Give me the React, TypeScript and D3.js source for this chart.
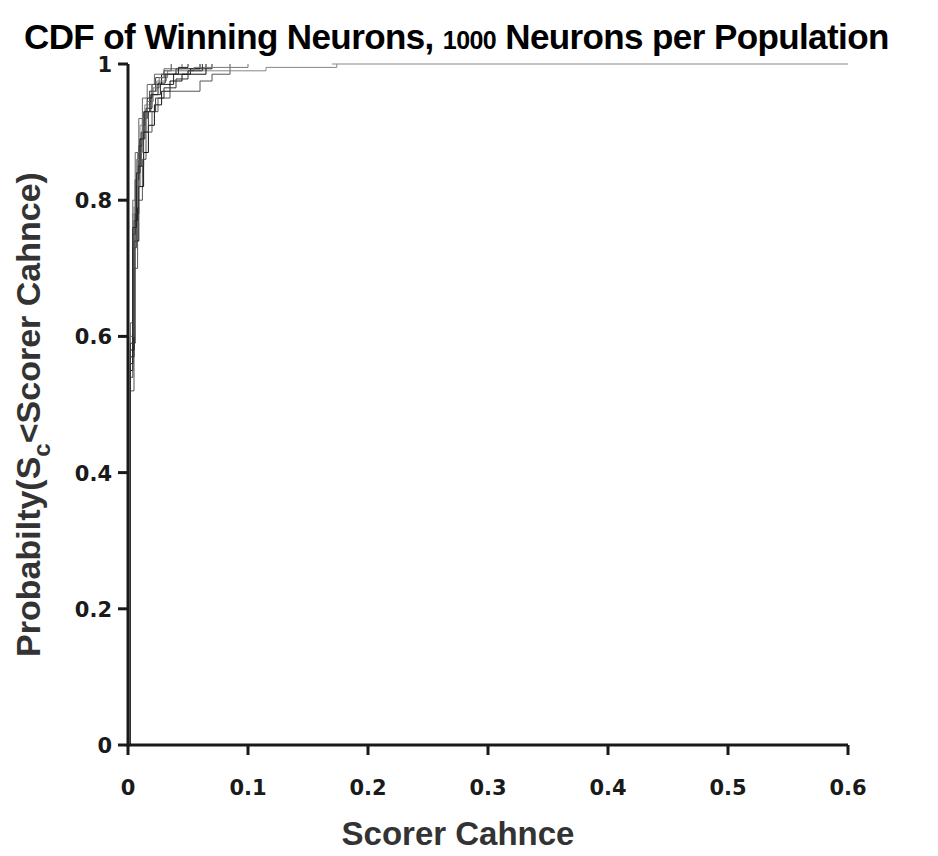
import * as d3 from 'd3'

// ─── Data ─────────────────────────────────────────────────────────────────────
// Each series: empirical CDF step points [scorer chance, probability]

const seriesA: [number, number][] = [[0.002, 0], [0.002, 0.55], [0.004, 0.75], [0.006, 0.83], [0.009, 0.88], [0.012, 0.92], [0.016, 0.95], [0.02, 0.97], [0.028, 0.985], [0.04, 0.993], [0.06, 1]]
const seriesB: [number, number][] = [[0.002, 0], [0.002, 0.52], [0.005, 0.7], [0.008, 0.8], [0.012, 0.86], [0.015, 0.9], [0.02, 0.93], [0.025, 0.95], [0.035, 0.96], [0.06, 0.975], [0.07, 0.985], [0.085, 1]]
const seriesC: [number, number][] = [[0.002, 0], [0.002, 0.6], [0.004, 0.78], [0.007, 0.86], [0.01, 0.91], [0.014, 0.94], [0.018, 0.96], [0.024, 0.975], [0.032, 0.985], [0.05, 0.99], [0.115, 0.995], [0.174, 1]]
const seriesD: [number, number][] = [[0.002, 0], [0.002, 0.57], [0.005, 0.77], [0.008, 0.85], [0.011, 0.9], [0.015, 0.935], [0.02, 0.955], [0.027, 0.97], [0.038, 0.985], [0.052, 0.993], [0.07, 1]]
const seriesE: [number, number][] = [[0.002, 0], [0.002, 0.62], [0.004, 0.8], [0.006, 0.87], [0.009, 0.92], [0.012, 0.95], [0.016, 0.97], [0.022, 0.985], [0.03, 0.993], [0.045, 1]]
const seriesF: [number, number][] = [[0.002, 0], [0.002, 0.58], [0.005, 0.74], [0.009, 0.82], [0.013, 0.87], [0.017, 0.91], [0.022, 0.94], [0.028, 0.96], [0.035, 0.975], [0.045, 0.985], [0.065, 1]]
const seriesG: [number, number][] = [[0.002, 0], [0.002, 0.54], [0.004, 0.73], [0.007, 0.82], [0.01, 0.89], [0.013, 0.93], [0.018, 0.96], [0.023, 0.98], [0.03, 0.99], [0.036, 1]]
const seriesH: [number, number][] = [[0.002, 0], [0.002, 0.6], [0.005, 0.79], [0.008, 0.87], [0.012, 0.92], [0.016, 0.945], [0.021, 0.965], [0.026, 0.98], [0.033, 0.99], [0.055, 0.995], [0.1, 1]]
const seriesI: [number, number][] = [[0.002, 0], [0.002, 0.56], [0.004, 0.76], [0.007, 0.84], [0.01, 0.89], [0.014, 0.93], [0.019, 0.955], [0.025, 0.972], [0.031, 0.985], [0.042, 0.995], [0.05, 1]]
const seriesJ: [number, number][] = [[0.002, 0], [0.002, 0.59], [0.006, 0.78], [0.009, 0.85], [0.013, 0.9], [0.017, 0.93], [0.023, 0.95], [0.03, 0.965], [0.04, 0.978], [0.05, 0.99], [0.062, 1]]

const allSeries = [seriesA, seriesB, seriesC, seriesD, seriesE, seriesF, seriesG, seriesH, seriesI, seriesJ]
const seriesColors = ['#111', '#555', '#888', '#222', '#666', '#111', '#444', '#777', '#222', '#333']

const xTicks = [0, 0.1, 0.2, 0.3, 0.4, 0.5, 0.6]
const yTicks = [0, 0.2, 0.4, 0.6, 0.8, 1]

// ─── Layout ───────────────────────────────────────────────────────────────────

const W = 938
const H = 856
const X0 = 128, X1 = 848, Y0 = 745, Y1 = 64

const tickFont = '"DejaVu Sans", sans-serif'
const labelFont = '"Liberation Sans", Arial, sans-serif'

export default function App() {
  const x = d3.scaleLinear().domain([0, 0.6]).range([X0, X1])
  const y = d3.scaleLinear().domain([0, 1]).range([Y0, Y1])
  const line = d3.line<[number, number]>().x((d) => x(d[0])).y((d) => y(d[1])).curve(d3.curveStepAfter)

  return (
    <svg width={W} height={H} style={{ position: 'absolute', left: 0, top: 0, background: '#fff' }}>
      <text x={24} y={49} fontFamily={labelFont} fontWeight="bold" fontSize={35} fill="#000" letterSpacing={-0.6}>
        CDF of Winning Neurons, <tspan fontSize={25}>1000</tspan> Neurons per Population
      </text>

      {/* extension to the right edge at 1 */}
      <line x1={x(0.17)} x2={X1} y1={y(1)} y2={y(1)} stroke="#888" strokeWidth={1.2} />

      {/* curves */}
      {allSeries.map((s, i) => (
        <path key={i} d={line(s) ?? ''} fill="none" stroke={seriesColors[i]} strokeWidth={1} />
      ))}

      {/* axes */}
      <line x1={X0} y1={Y0 + 2} x2={X0} y2={Y1} stroke="#1a1a1a" strokeWidth={3} />
      <line x1={X0 - 1} y1={Y0} x2={X1} y2={Y0} stroke="#1a1a1a" strokeWidth={3} />
      {yTicks.map((t) => (
        <g key={t}>
          <line x1={X0 - 10} x2={X0} y1={y(t)} y2={y(t)} stroke="#1a1a1a" strokeWidth={3} />
          <text x={X0 - 16} y={y(t) + 8} textAnchor="end" fontFamily={tickFont} fontWeight="bold" fontSize={21} fill="#1a1a1a">
            {String(t)}
          </text>
        </g>
      ))}
      {xTicks.map((t) => (
        <g key={t}>
          <line x1={x(t)} x2={x(t)} y1={Y0} y2={Y0 + 10} stroke="#1a1a1a" strokeWidth={3} />
          <text x={x(t)} y={Y0 + 50} textAnchor="middle" fontFamily={tickFont} fontWeight="bold" fontSize={21} fill="#1a1a1a">
            {String(t)}
          </text>
        </g>
      ))}

      <text x={(X0 + X1) / 2 - 30} y={845} textAnchor="middle" fontFamily={labelFont} fontWeight="bold" fontSize={33} fill="#333">
        Scorer Cahnce
      </text>
      <text transform={`translate(40,${(Y0 + Y1) / 2 + 10}) rotate(-90)`} textAnchor="middle" fontFamily={labelFont} fontWeight="bold" fontSize={34} fill="#333">
        Probabilty(S<tspan fontSize={24} dy={10}>c</tspan><tspan dy={-10}>&lt;Scorer Cahnce)</tspan>
      </text>
    </svg>
  )
}
